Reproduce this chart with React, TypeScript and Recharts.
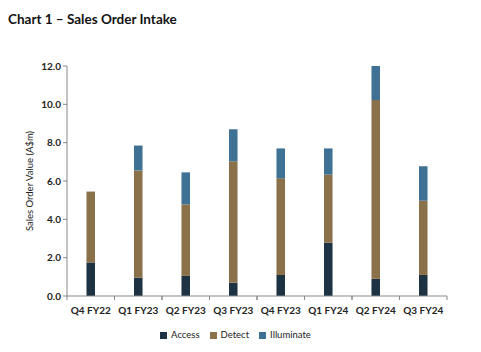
import { BarChart, Bar, XAxis, YAxis, Legend } from "recharts";

const quarters = ["Q4 FY22", "Q1 FY23", "Q2 FY23", "Q3 FY23", "Q4 FY23", "Q1 FY24", "Q2 FY24", "Q3 FY24"];
const access = [1.75, 0.95, 1.05, 0.7, 1.1, 2.78, 0.9, 1.1];
const detect = [3.7, 5.6, 3.73, 6.33, 5.04, 3.55, 9.32, 3.87];
const illuminate = [0, 1.3, 1.67, 1.67, 1.56, 1.37, 1.78, 1.8];
const yTicks = [0, 2, 4, 6, 8, 10, 12];

const W = 481;
const H = 352;
const LEFT = 67;
const RIGHT = 34;
const BAND = (W - LEFT - RIGHT) / quarters.length;
const FONT = "Lato, 'Open Sans', sans-serif";

const data = quarters.map((q, i) => ({
  name: q,
  Access: access[i],
  Detect: detect[i],
  Illuminate: illuminate[i],
}));

function XTick(props: any) {
  const { x, y, payload } = props;
  return (
    <g>
      <line x1={x - BAND / 2} x2={x - BAND / 2} y1={y - 8} y2={y - 4} stroke="#888" />
      <line x1={x + BAND / 2} x2={x + BAND / 2} y1={y - 8} y2={y - 4} stroke="#888" />
      <text x={x} y={y + 10} textAnchor="middle" fontSize={10} fontWeight={700} fill="#222">
        {payload.value}
      </text>
    </g>
  );
}

export default function App() {
  return (
    <div style={{ position: "absolute", left: 0, top: 0, width: W, height: H, background: "#fff", fontFamily: FONT }}>
      <div style={{ position: "absolute", left: 8, top: 11, fontSize: 13.5, fontWeight: 700, color: "#111" }}>
        Chart 1 – Sales Order Intake
      </div>
      <BarChart
        width={W}
        height={H}
        data={data}
        margin={{ top: 66, right: RIGHT, left: 0, bottom: 0 }}
        barCategoryGap="59%"
      >
        <XAxis
          dataKey="name"
          tickLine={false}
          axisLine={{ stroke: "#888" }}
          tick={<XTick />}
          height={33}
          interval={0}
        />
        <YAxis
          domain={[0, 12]}
          ticks={yTicks}
          width={LEFT}
          tickFormatter={(v: number) => v.toFixed(1)}
          tick={{ fontSize: 10, fontWeight: 700, fill: "#222" }}
          tickLine={{ stroke: "#888" }}
          tickSize={4}
          axisLine={{ stroke: "#888" }}
          label={{
            value: "Sales Order Value (A$m)",
            angle: -90,
            position: "insideLeft",
            offset: 30,
            fill: "#222",
            fontSize: 9.5,
            style: { textAnchor: "middle", fill: "#222" },
          }}
        />
        <Legend
          verticalAlign="bottom"
          iconType="square"
          iconSize={7}
          height={23}
          wrapperStyle={{ fontSize: 9.5, color: "#222", paddingLeft: 17 }}
          formatter={(v: string) => <span style={{ color: "#222" }}>{v}</span>}
        />
        <Bar dataKey="Access" stackId="a" fill="#1d3343" isAnimationActive={false} />
        <Bar dataKey="Detect" stackId="a" fill="#8b7149" isAnimationActive={false} />
        <Bar dataKey="Illuminate" stackId="a" fill="#3f7195" isAnimationActive={false} />
      </BarChart>
    </div>
  );
}
